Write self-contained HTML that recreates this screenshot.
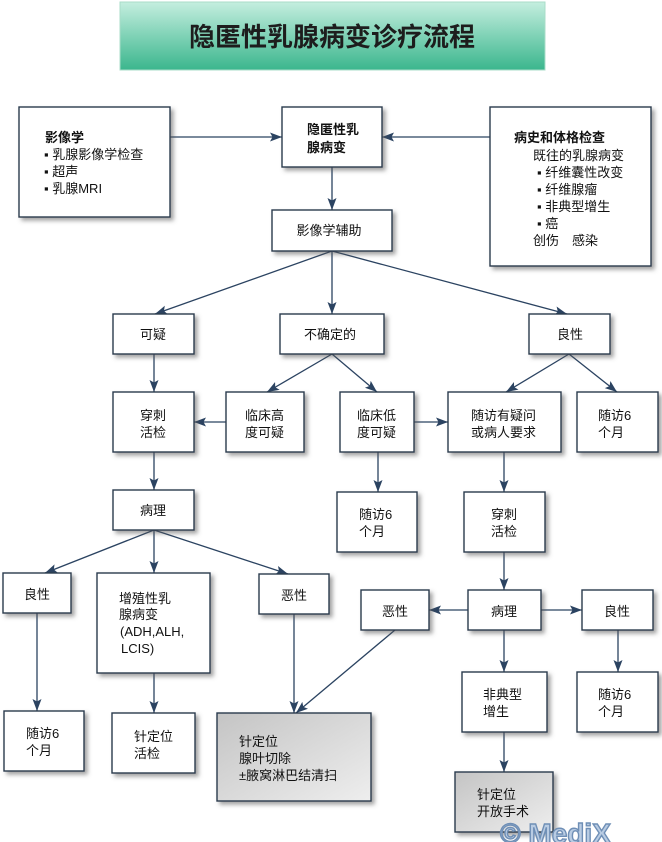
<!DOCTYPE html>
<html>
<head>
<meta charset="utf-8">
<style>
html,body{margin:0;padding:0;background:#fff;}
body{width:662px;height:842px;overflow:hidden;}
svg{display:block;}
text{font-family:"Liberation Sans","Noto Sans CJK SC","WenQuanYi Zen Hei",sans-serif;font-size:13px;fill:#111;}
.b{font-weight:bold;}
</style>
</head>
<body>
<svg width="662" height="842" viewBox="0 0 662 842" xmlns="http://www.w3.org/2000/svg">
<defs>
<linearGradient id="tg" x1="0" y1="0" x2="0" y2="1">
<stop offset="0" stop-color="#c4eedf"/>
<stop offset="1" stop-color="#3bb68d"/>
</linearGradient>
<linearGradient id="gg" x1="0" y1="0" x2="1" y2="1">
<stop offset="0" stop-color="#c4c4c4"/>
<stop offset="1" stop-color="#eeeeee"/>
</linearGradient>
<filter id="sh" x="-20%" y="-20%" width="140%" height="140%">
<feDropShadow dx="3" dy="3" stdDeviation="2" flood-color="#555" flood-opacity="0.55"/>
</filter>
<marker id="ar" markerUnits="userSpaceOnUse" markerWidth="14" markerHeight="10" refX="12" refY="4.5" orient="auto">
<path d="M0,0 L12,4.5 L0,9 L2.5,4.5 z" fill="#2b4361"/>
</marker>
</defs>

<!-- Title -->
<rect x="120" y="2" width="425" height="68" fill="url(#tg)" stroke="#a9dcc8" stroke-width="1"/>
<text x="332" y="46" text-anchor="middle" class="b" style="font-size:26px;fill:#1d1d1d;">隐匿性乳腺病变诊疗流程</text>

<!-- connectors -->
<g stroke="#2b4361" stroke-width="1.3" fill="none" marker-end="url(#ar)">
<line x1="170" y1="137" x2="282" y2="137"/>
<line x1="490" y1="137" x2="382" y2="137"/>
<line x1="332" y1="167" x2="332" y2="210"/>
<line x1="332" y1="251" x2="155" y2="314"/>
<line x1="332" y1="251" x2="332" y2="314"/>
<line x1="332" y1="251" x2="567" y2="314"/>
<line x1="154" y1="354" x2="154" y2="392"/>
<line x1="332" y1="354" x2="267" y2="392"/>
<line x1="332" y1="354" x2="377" y2="392"/>
<line x1="569" y1="354" x2="506" y2="392"/>
<line x1="569" y1="354" x2="617" y2="392"/>
<line x1="226" y1="422" x2="194" y2="422"/>
<line x1="414" y1="422" x2="448" y2="422"/>
<line x1="154" y1="452" x2="154" y2="490"/>
<line x1="378" y1="452" x2="378" y2="492"/>
<line x1="504" y1="452" x2="504" y2="492"/>
<line x1="154" y1="530" x2="45" y2="573"/>
<line x1="154" y1="530" x2="154" y2="573"/>
<line x1="154" y1="530" x2="288" y2="574"/>
<line x1="504" y1="552" x2="504" y2="590"/>
<line x1="468" y1="610" x2="429" y2="610"/>
<line x1="541" y1="610" x2="582" y2="610"/>
<line x1="37" y1="613" x2="37" y2="711"/>
<line x1="154" y1="673" x2="154" y2="713"/>
<line x1="294" y1="614" x2="294" y2="713"/>
<line x1="395" y1="630" x2="296" y2="713"/>
<line x1="504" y1="630" x2="504" y2="672"/>
<line x1="618" y1="630" x2="618" y2="672"/>
<line x1="504" y1="732" x2="504" y2="772"/>
</g>

<!-- boxes -->
<g stroke="#2b3a4e" stroke-width="1.4" fill="#fff" filter="url(#sh)">
<rect x="19" y="107" width="151" height="110"/>
<rect x="282" y="107" width="100" height="60"/>
<rect x="490" y="107" width="161" height="159"/>
<rect x="272" y="210" width="120" height="41"/>
<rect x="113" y="314" width="81" height="40"/>
<rect x="280" y="314" width="104" height="40"/>
<rect x="529" y="314" width="81" height="40"/>
<rect x="113" y="392" width="81" height="60"/>
<rect x="226" y="392" width="78" height="60"/>
<rect x="340" y="392" width="74" height="60"/>
<rect x="448" y="392" width="113" height="60"/>
<rect x="577" y="392" width="81" height="60"/>
<rect x="113" y="490" width="81" height="40"/>
<rect x="337" y="492" width="80" height="60"/>
<rect x="464" y="492" width="81" height="60"/>
<rect x="3" y="573" width="68" height="40"/>
<rect x="97" y="573" width="113" height="100"/>
<rect x="259" y="574" width="70" height="40"/>
<rect x="361" y="590" width="68" height="40"/>
<rect x="468" y="590" width="73" height="40"/>
<rect x="582" y="590" width="71" height="40"/>
<rect x="4" y="711" width="80" height="60"/>
<rect x="112" y="713" width="83" height="60"/>
<rect x="217" y="713" width="154" height="88" fill="url(#gg)"/>
<rect x="462" y="672" width="85" height="60"/>
<rect x="577" y="672" width="81" height="60"/>
<rect x="455" y="772" width="98" height="60" fill="url(#gg)"/>
</g>

<!-- texts -->
<text x="45" y="142" class="b">影像学</text>
<text x="44" y="159">▪ 乳腺影像学检查</text>
<text x="44" y="176">▪ 超声</text>
<text x="44" y="193">▪ 乳腺MRI</text>

<text x="307" y="134" class="b">隐匿性乳</text>
<text x="307" y="152" class="b">腺病变</text>

<text x="514" y="142" class="b">病史和体格检查</text>
<text x="533" y="160">既往的乳腺病变</text>
<text x="537" y="177">▪ 纤维囊性改变</text>
<text x="537" y="194">▪ 纤维腺瘤</text>
<text x="537" y="211">▪ 非典型增生</text>
<text x="537" y="228">▪ 癌</text>
<text x="533" y="245">创伤　感染</text>

<text x="329" y="235" text-anchor="middle">影像学辅助</text>

<text x="153" y="339" text-anchor="middle">可疑</text>
<text x="330" y="339" text-anchor="middle">不确定的</text>
<text x="570" y="339" text-anchor="middle">良性</text>

<text x="140" y="420">穿刺</text>
<text x="140" y="437">活检</text>
<text x="245" y="420">临床高</text>
<text x="245" y="437">度可疑</text>
<text x="357" y="420">临床低</text>
<text x="357" y="437">度可疑</text>
<text x="471" y="420">随访有疑问</text>
<text x="471" y="437">或病人要求</text>
<text x="598" y="420">随访6</text>
<text x="598" y="437">个月</text>

<text x="153" y="515" text-anchor="middle">病理</text>
<text x="359" y="519">随访6</text>
<text x="359" y="536">个月</text>
<text x="491" y="519">穿刺</text>
<text x="491" y="536">活检</text>

<text x="37" y="599" text-anchor="middle">良性</text>
<text x="119" y="603">增殖性乳</text>
<text x="119" y="619">腺病变</text>
<text x="120" y="636">(ADH,ALH,</text>
<text x="121" y="653">LCIS)</text>
<text x="294" y="600" text-anchor="middle">恶性</text>

<text x="395" y="616" text-anchor="middle">恶性</text>
<text x="504" y="616" text-anchor="middle">病理</text>
<text x="617" y="616" text-anchor="middle">良性</text>

<text x="26" y="738">随访6</text>
<text x="26" y="755">个月</text>
<text x="134" y="741">针定位</text>
<text x="134" y="758">活检</text>
<text x="239" y="746">针定位</text>
<text x="239" y="763">腺叶切除</text>
<text x="239" y="780">±腋窝淋巴结清扫</text>

<text x="483" y="699">非典型</text>
<text x="483" y="716">增生</text>
<text x="598" y="699">随访6</text>
<text x="598" y="716">个月</text>
<text x="477" y="799">针定位</text>
<text x="477" y="816">开放手术</text>

<!-- watermark -->
<text x="500" y="843" class="b" style="font-size:28px;fill:#b9cce3;stroke:#6f8fb6;stroke-width:1.4;">© MediX</text>
</svg>
</body>
</html>
